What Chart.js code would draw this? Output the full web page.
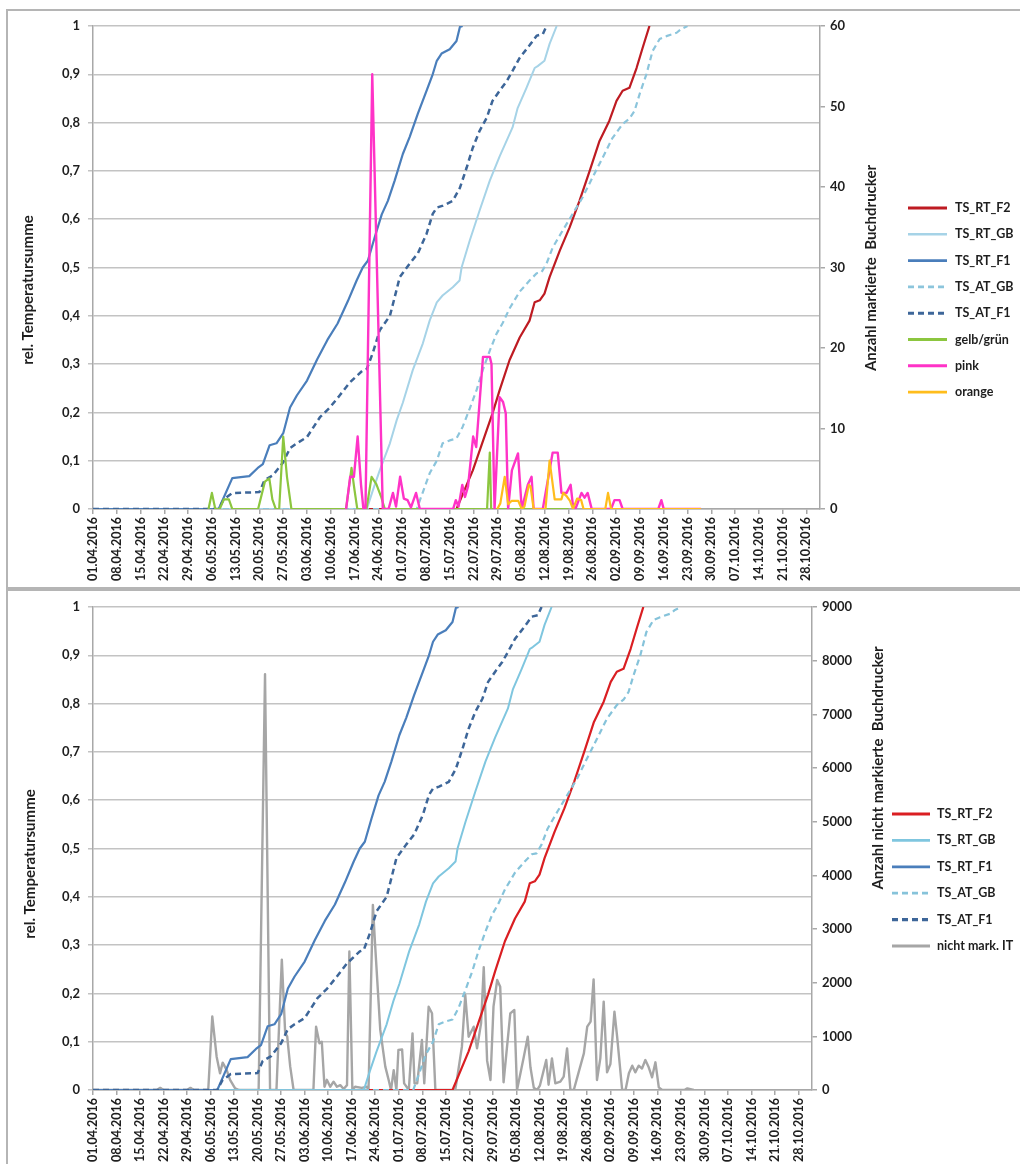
<!DOCTYPE html>
<html>
<head>
<meta charset="utf-8">
<script src="https://cdn.jsdelivr.net/npm/chart.js@4.4.1/dist/chart.umd.min.js"></script>
<style>
  html, body { margin: 0; padding: 0; background: #fff; overflow: hidden; width: 1020px; height: 1164px; }
  .frame { position: absolute; left: 6px; width: 1100px; border: 2px solid #b5b5b5; }
  #f1 { top: 9px; height: 576px; }
  #f2 { top: 589px; height: 700px; }
  canvas { position: absolute; left: 0; }
  #c1 { top: 0; }
  #c2 { top: 590px; }
</style>
</head>
<body>
<div class="frame" id="f1"></div>
<div class="frame" id="f2"></div>
<canvas id="c1" width="1020" height="590"></canvas>
<canvas id="c2" width="1020" height="600"></canvas>
<script>
// ---- date axis -------------------------------------------------------
const tickLabels = ['01.04.2016','08.04.2016','15.04.2016','22.04.2016','29.04.2016','06.05.2016',
  '13.05.2016','20.05.2016','27.05.2016','03.06.2016','10.06.2016','17.06.2016','24.06.2016',
  '01.07.2016','08.07.2016','15.07.2016','22.07.2016','29.07.2016','05.08.2016','12.08.2016',
  '19.08.2016','26.08.2016','02.09.2016','09.09.2016','16.09.2016','23.09.2016','30.09.2016',
  '07.10.2016','14.10.2016','21.10.2016','28.10.2016'];
const axisEndLabel = '01.11.2016';

// ---- relative temperature sums (x = days since 01.04.2016) ----------
const tsRtF2Days = [0, 107, 111.8, 117.6, 119.7, 122.6, 125.6, 128.5, 130, 131.5, 132.9, 134.4, 137.4, 140.3, 143.2, 146.2, 149.1, 152, 154.1, 155.9, 157.9, 160, 161.8, 163.8];
const tsRtF2Vals = [0, 0, 0.08, 0.198, 0.246, 0.308, 0.355, 0.39, 0.428, 0.432, 0.446, 0.48, 0.535, 0.583, 0.638, 0.7, 0.762, 0.804, 0.845, 0.866, 0.872, 0.913, 0.955, 1.0];

const tsRtGbDays = [0, 80.6, 82.4, 84.4, 87.4, 89.4, 91.2, 94.1, 97.1, 99.1, 101.2, 102.9, 105.9, 107.9, 108.5, 110.9, 113.8, 116.8, 119.7, 123.5, 125, 127.6, 130, 130.9, 132.9, 134.4, 136.5];
const tsRtGbVals = [0, 0, 0.039, 0.08, 0.136, 0.184, 0.22, 0.287, 0.343, 0.39, 0.428, 0.442, 0.459, 0.473, 0.5, 0.556, 0.618, 0.68, 0.73, 0.79, 0.83, 0.872, 0.913, 0.917, 0.928, 0.963, 1.0];

const tsRtF1Days = [0, 37, 41, 46, 48.5, 50, 52, 54, 56, 58, 60, 63, 66, 69, 72, 75, 77.6, 79.4, 80.9, 82.9, 85, 86.8, 88.8, 91.2, 93.2, 95.6, 98.2, 100, 101.2, 102.6, 105, 107, 108, 108.8];
const tsRtF1Vals = [0, 0, 0.064, 0.068, 0.085, 0.093, 0.132, 0.136, 0.157, 0.21, 0.235, 0.266, 0.31, 0.35, 0.384, 0.43, 0.473, 0.5, 0.514, 0.562, 0.61, 0.638, 0.68, 0.735, 0.77, 0.818, 0.866, 0.9, 0.928, 0.943, 0.952, 0.969, 0.998, 1.0];

const tsAtGbDays = [0, 95.3, 97, 99.1, 101.2, 102.9, 105, 107, 108.8, 110.9, 112.9, 114.7, 116.8, 118.8, 120.6, 122.6, 125.6, 128.5, 130.6, 132, 133.5, 135.3, 138.2, 141.2, 144.1, 147, 150, 152.9, 155.9, 157.9, 159.4, 160.9, 162.9, 164.7, 166.8, 168.8, 171.8, 173.2, 175];
const tsAtGbVals = [0, 0, 0.033, 0.074, 0.1, 0.136, 0.142, 0.146, 0.17, 0.208, 0.246, 0.287, 0.328, 0.363, 0.385, 0.415, 0.45, 0.473, 0.488, 0.49, 0.508, 0.541, 0.576, 0.611, 0.645, 0.686, 0.727, 0.768, 0.797, 0.808, 0.824, 0.859, 0.9, 0.948, 0.973, 0.979, 0.986, 0.994, 1.0];

const tsAtF1Days = [0, 37, 38.5, 41, 49, 50.5, 53, 56, 58, 60, 63, 66.8, 69.7, 72.6, 75.6, 79.4, 80.6, 82.4, 84.4, 87.4, 88.5, 90.3, 93.2, 95.6, 98.2, 100, 101.2, 103, 105.9, 108, 110, 111.8, 113.8, 115.9, 117.6, 119.7, 121.8, 123.5, 125.6, 128.5, 130.6, 132.4, 133.5];
const tsAtF1Vals = [0, 0, 0.02, 0.033, 0.035, 0.06, 0.07, 0.097, 0.126, 0.136, 0.149, 0.19, 0.21, 0.235, 0.262, 0.287, 0.29, 0.324, 0.37, 0.4, 0.43, 0.48, 0.508, 0.529, 0.57, 0.611, 0.624, 0.628, 0.638, 0.665, 0.707, 0.748, 0.783, 0.81, 0.845, 0.866, 0.886, 0.907, 0.934, 0.96, 0.98, 0.983, 1.0];

// ---- marked beetles per trap colour (right axis, top panel) ---------
const greenDays = [34, 35, 36, 37.3, 38.5, 40, 41, 48.6, 50.6, 51.9, 52.8, 53.8, 54.8, 56, 57.1, 58.4, 74.5, 76.1, 77, 77.8, 80.5, 82, 83.4, 84.9, 85.9, 116, 116.8, 117.2, 140];
const greenVals = [0, 2, 0, 0, 1.2, 1.2, 0, 0, 3.4, 3.8, 1.2, 0, 0, 9, 4, 0, 0, 5.1, 2.3, 0, 0, 4, 3.1, 1.4, 0, 0, 7, 0, 0];

const pinkDays = [74.5, 75.7, 76.8, 77.9, 78.9, 79.6, 80.2, 82.2, 85.3, 87, 88.3, 89.2, 90.4, 91.5, 92.6, 93.6, 95.1, 96.2, 106, 106.8, 107.6, 108.7, 109.5, 110.4, 111.9, 112.8, 114.8, 116.8, 117.3, 118.2, 119.7, 120.7, 121.5, 122.2, 123.3, 125.1, 126.2, 128, 129.1, 129.7, 132.4, 135.3, 136.8, 137.9, 139.4, 140.6, 141.2, 142, 143.8, 144.7, 145.6, 146.8, 152.5, 153.5, 155, 155.9, 166.4, 167.3, 168, 179];
const pinkVals = [0, 4, 4, 9, 3, 0, 0, 54, 0, 0, 2, 0.3, 4, 1.3, 1.1, 0.2, 2, 0, 0, 1.1, 0.3, 3, 1.5, 2.8, 9, 7.7, 18.9, 18.9, 18, 0, 13.9, 13.3, 11.9, 0, 4.8, 6.9, 0, 3, 4, 0, 0, 7, 7, 2, 2, 3, 0.7, 0, 2, 1.4, 2, 0, 0, 1.1, 1.1, 0, 0, 1.1, 0, 0];

const orangeDays = [119, 119.9, 121.2, 122.2, 123.2, 125.2, 126.2, 127, 128.3, 128.8, 129.7, 133.2, 134.4, 135.9, 137.9, 138.4, 139.4, 140.4, 141.3, 142.5, 143.7, 144.4, 150.8, 151.6, 152.5, 179];
const orangeVals = [0, 0.7, 4, 0.6, 1, 1, 0, 0.3, 3, 2.8, 0, 0, 6, 1.2, 1.2, 2, 1.6, 1, 0, 1.3, 1.1, 0, 0, 2, 0, 0];

// ---- unmarked beetles (right axis, bottom panel) ---------------------
const grayDays = [0, 19, 20, 21, 28, 29, 30, 34.3, 35.5, 36.8, 37.8, 38.6, 39.8, 40.8, 42.3, 43.5, 49.3, 51.2, 52.7, 54.6,
  56.2, 57.2, 57.8, 58.7, 59.7, 65.6, 66.4, 67.4, 68.1, 68.9, 69.6, 70.6, 71.6, 72.6, 73.6, 74.6, 75.6, 76.3, 77.2, 78,
  80, 81.5, 82, 83.3, 84, 85.5, 87, 88, 88.7, 89.5, 90.3, 90.9, 92, 92.6, 94, 95.1, 95.7, 96.5, 97.9, 98.6,
  99.9, 100.9, 101.9, 107.8, 108.3, 109.8, 110.8, 111.8, 113.3, 114.3, 115.5, 116.3, 117.3, 118.3, 119.2, 120.3, 121.2, 122.2, 124.2, 125.4,
  126.2, 128.2, 129.4, 130.2, 131.2, 132.2, 133, 134.9, 135.6, 136.6, 137.6, 139.1, 140.1, 141.1, 142.1, 143.1, 144.6, 146.1, 147.1, 148.1,
  149, 150, 151, 152, 153, 154, 155.2, 156, 157.5, 158.5, 159.5, 160.5, 161.4, 162.4, 163.4, 164.4, 165.4, 166.4, 167.4, 168.4,
  169.4, 176, 176.9, 178.8];
const grayVals = [0, 0, 40, 0, 0, 40, 0, 0, 1370, 620, 310, 510, 370, 190, 30, 0, 0, 7750, 0, 0,
  2430, 1060, 1000, 435, 0, 0, 1180, 870, 900, 60, 190, 60, 155, 60, 90, 20, 90, 2580, 0, 60,
  40, 60, 0, 3450, 2670, 1120, 435, 186, 0, 370, 0, 745, 757, 124, 0, 1056, 124, 124, 931, 124,
  1552, 1430, 0, 0, 186, 807, 1770, 993, 1180, 776, 1242, 2286, 547, 186, 1552, 2049, 1925, 143, 1428, 1490,
  0, 609, 993, 423, 40, 0, 80, 559, 99, 590, 124, 155, 249, 776, 0, 0, 342, 683, 1180, 1273,
  2062, 186, 590, 1646, 329, 484, 1459, 993, 0, 0, 311, 453, 329, 453, 400, 559, 423, 236, 516, 50,
  0, 0, 30, 0];

// ---- helpers ---------------------------------------------------------
const START = Date.UTC(2016, 3, 1);
function dayOf(label) {
  const [d, m, y] = label.split('.').map(Number);
  return (Date.UTC(y, m - 1, d) - START) / 864e5;
}
const tickDays = tickLabels.map(dayOf);
const X_MAX = dayOf(axisEndLabel);

const FONT = "Lato, 'Open Sans', 'DejaVu Sans', sans-serif";
const TXT = '#1e1e1e';
const AXIS = '#a8a8a8';
const GRID = '#c3c3c3';
Chart.defaults.font.family = FONT;

function pts(days, vals) { return days.map((d, i) => ({ x: d, y: vals[i] })); }

function series(label, days, vals, color, axis, order, extra) {
  return Object.assign({
    label, data: pts(days, vals), borderColor: color, backgroundColor: color,
    borderWidth: 2.2, pointRadius: 0, pointHoverRadius: 0, tension: 0, fill: false,
    yAxisID: axis, order, borderJoinStyle: 'round'
  }, extra || {});
}

function fmtRel(v) {
  if (Math.abs(v) < 1e-9) return '0';
  if (Math.abs(v - 1) < 1e-9) return '1';
  return v.toFixed(1).replace('.', ',');
}

function buildScales(rightMax, rightStep, leftWidth, rightWidth, xHeight) {
  return {
    x: {
      type: 'linear', min: 0, max: X_MAX,
      afterBuildTicks: s => { s.ticks = tickDays.map(v => ({ value: v })); },
      afterFit: s => { s.height = xHeight; },
      ticks: { autoSkip: false, minRotation: 90, maxRotation: 90, padding: 3, color: TXT,
               font: { size: 12.5, weight: 'bold' }, callback: (v, i) => tickLabels[i] },
      grid: { drawOnChartArea: false, drawTicks: true, tickLength: 5, color: AXIS, lineWidth: 1.5 },
      border: { display: true, color: AXIS, width: 1.5 }
    },
    y: {
      position: 'left', min: 0, max: 1,
      afterFit: s => { s.width = leftWidth; },
      ticks: { stepSize: 0.1, padding: 8, color: TXT, font: { size: 13, weight: 'bold' }, callback: fmtRel },
      grid: { color: GRID, lineWidth: 1.5, drawTicks: true, tickLength: 5 },
      border: { display: true, color: AXIS, width: 1.5 }
    },
    y1: {
      position: 'right', min: 0, max: rightMax,
      afterFit: s => { s.width = rightWidth; },
      ticks: { stepSize: rightStep, padding: 5, color: TXT, font: { size: 13, weight: 'bold' }, callback: v => String(v) },
      grid: { drawOnChartArea: false, drawTicks: true, tickLength: 5, color: AXIS, lineWidth: 1.5 },
      border: { display: true, color: AXIS, width: 1.5 }
    }
  };
}

// Axis titles and a line-sample legend drawn beside the plot.
const panelDecor = {
  id: 'panelDecor',
  afterDraw(chart, args, opts) {
    const ctx = chart.ctx;
    ctx.save();
    ctx.fillStyle = TXT;
    (opts.titles || []).forEach(t => {
      ctx.save();
      ctx.translate(t.x, t.y);
      ctx.rotate(-Math.PI / 2);
      ctx.font = 'bold 15px ' + FONT;
      ctx.textAlign = 'center';
      ctx.textBaseline = 'middle';
      ctx.fillText(t.text, 0, 0);
      ctx.restore();
    });
    const lg = opts.legend;
    if (lg) {
      lg.items.forEach((label, i) => {
        const ds = chart.data.datasets.find(d => d.label === label);
        const y = lg.y + i * lg.gap;
        ctx.beginPath();
        ctx.setLineDash(ds.borderDash || []);
        ctx.lineWidth = ds.borderWidth + 0.6;
        ctx.strokeStyle = ds.borderColor;
        ctx.moveTo(lg.x1, y);
        ctx.lineTo(lg.x2, y);
        ctx.stroke();
        ctx.setLineDash([]);
        ctx.fillStyle = TXT;
        ctx.font = 'bold 12.5px ' + FONT;
        ctx.textAlign = 'left';
        ctx.textBaseline = 'middle';
        ctx.fillText(label, lg.tx, y);
      });
    }
    ctx.restore();
  }
};

const commonOpts = {
  responsive: false, animation: false, devicePixelRatio: 1,
  events: [],
};

// ---- top panel: marked beetles ---------------------------------------
const topDatasets = [
  series('TS_RT_F2', tsRtF2Days, tsRtF2Vals, '#BE1B22', 'y', 7),
  series('TS_RT_GB', tsRtGbDays, tsRtGbVals, '#A6D3E7', 'y', 6, { borderWidth: 2 }),
  series('TS_RT_F1', tsRtF1Days, tsRtF1Vals, '#4A7EBB', 'y', 5),
  series('TS_AT_GB', tsAtGbDays, tsAtGbVals, '#8CC5DC', 'y', 4, { borderDash: [6, 4], borderWidth: 2.2 }),
  series('TS_AT_F1', tsAtF1Days, tsAtF1Vals, '#3D6699', 'y', 3, { borderDash: [6, 4], borderWidth: 2.5 }),
  series('gelb/grün', greenDays, greenVals, '#8CC63F', 'y1', 2),
  series('pink', pinkDays, pinkVals, '#FF33C7', 'y1', 1, { borderWidth: 2.4 }),
  series('orange', orangeDays, orangeVals, '#FFBD1C', 'y1', 0)
];

new Chart(document.getElementById('c1'), {
  type: 'line',
  data: { datasets: topDatasets },
  plugins: [panelDecor],
  options: Object.assign({}, commonOpts, {
    layout: { padding: { top: 26, left: 0, right: 0, bottom: 0 } },
    scales: buildScales(60, 10, 93, 200, 81),
    plugins: {
      legend: { display: false },
      tooltip: { enabled: false },
      panelDecor: {
        titles: [
          { text: 'rel. Temperatursumme', x: 28, y: 290 },
          { text: 'Anzahl markierte  Buchdrucker', x: 871, y: 268 }
        ],
        legend: {
          items: ['TS_RT_F2', 'TS_RT_GB', 'TS_RT_F1', 'TS_AT_GB', 'TS_AT_F1', 'gelb/grün', 'pink', 'orange'],
          x1: 908, x2: 947, tx: 955, y: 208, gap: 26.3
        }
      }
    }
  })
});

// ---- bottom panel: unmarked beetles ----------------------------------
const bottomDatasets = [
  series('TS_RT_F2', tsRtF2Days, tsRtF2Vals, '#DA1E22', 'y', 4),
  series('TS_RT_GB', tsRtGbDays, tsRtGbVals, '#7FC6DF', 'y', 3, { borderWidth: 2 }),
  series('TS_RT_F1', tsRtF1Days, tsRtF1Vals, '#4A7EBB', 'y', 2),
  series('TS_AT_GB', tsAtGbDays, tsAtGbVals, '#86C3DA', 'y', 1, { borderDash: [6, 4], borderWidth: 2.2 }),
  series('TS_AT_F1', tsAtF1Days, tsAtF1Vals, '#3D6699', 'y', 0, { borderDash: [6, 4], borderWidth: 2.5 }),
  series('nicht mark. IT', grayDays, grayVals, '#A6A6A6', 'y1', 5, { borderWidth: 2.4 })
];

new Chart(document.getElementById('c2'), {
  type: 'line',
  data: { datasets: bottomDatasets },
  plugins: [panelDecor],
  options: Object.assign({}, commonOpts, {
    layout: { padding: { top: 17, left: 0, right: 0, bottom: 0 } },
    scales: buildScales(9000, 1000, 93, 208, 100),
    plugins: {
      legend: { display: false },
      tooltip: { enabled: false },
      panelDecor: {
        titles: [
          { text: 'rel. Temperatursumme', x: 30, y: 274 },
          { text: 'Anzahl nicht markierte  Buchdrucker', x: 878, y: 178 }
        ],
        legend: {
          items: ['TS_RT_F2', 'TS_RT_GB', 'TS_RT_F1', 'TS_AT_GB', 'TS_AT_F1', 'nicht mark. IT'],
          x1: 892, x2: 930, tx: 937, y: 224, gap: 26.4
        }
      }
    }
  })
});
</script>
</body>
</html>
